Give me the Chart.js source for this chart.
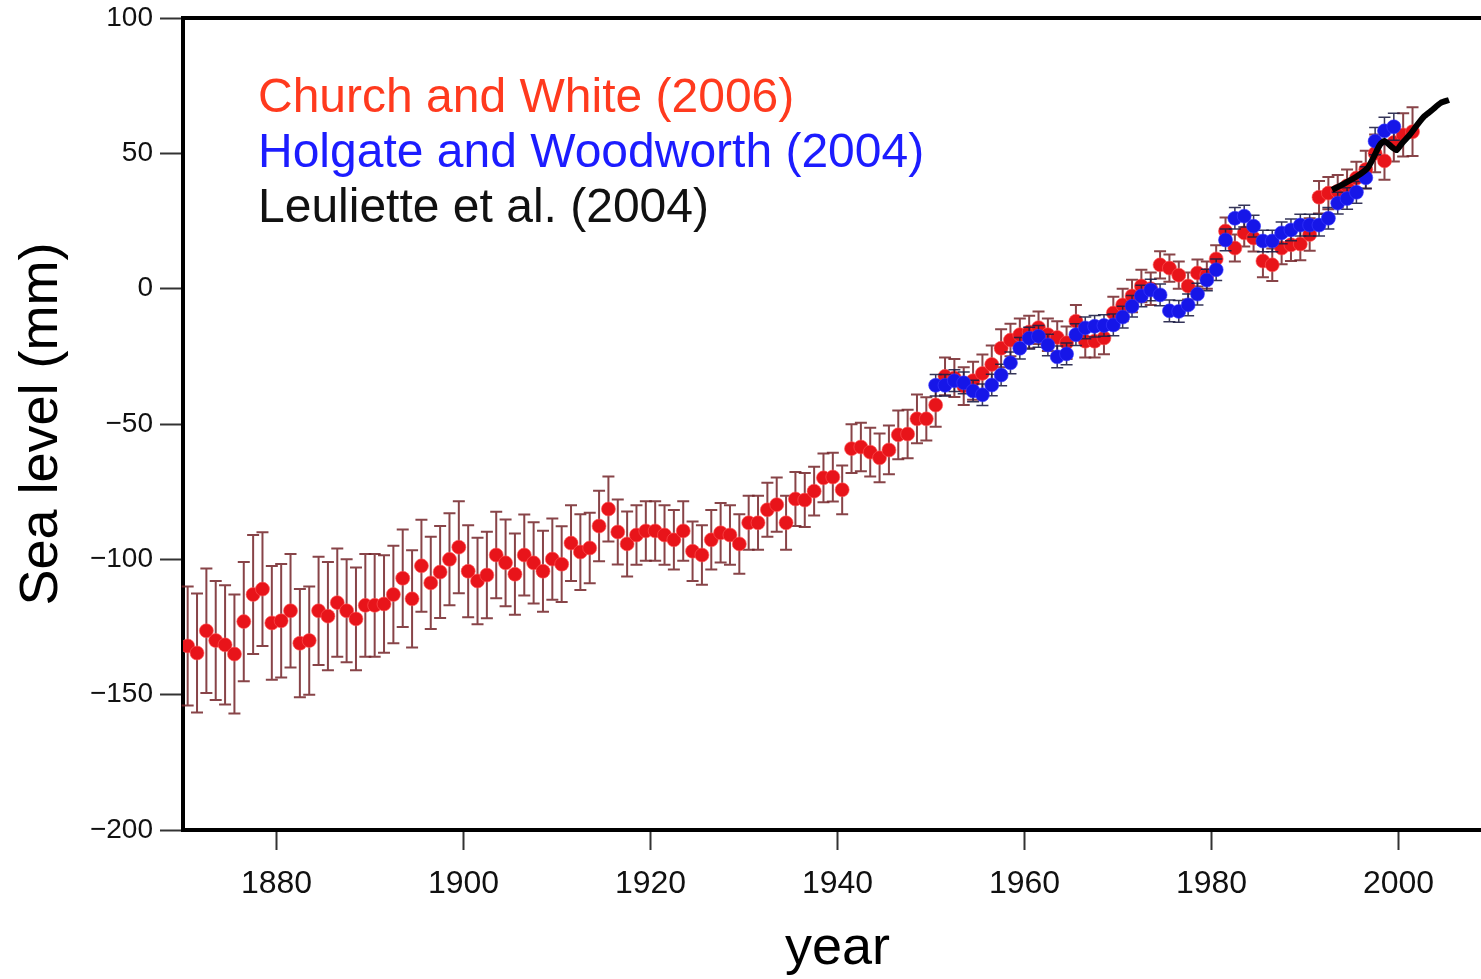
<!DOCTYPE html>
<html>
<head>
<meta charset="utf-8">
<title>Sea level</title>
<script src="https://cdn.jsdelivr.net/npm/chart.js@4.4.1/dist/chart.umd.min.js"></script>
<style>
  html, body { margin: 0; padding: 0; background: #fff; overflow: hidden; }
  #wrap { width: 1500px; height: 979px; }
</style>
</head>
<body>
<div id="wrap"><canvas id="seaChart"></canvas></div>
<script>
// Church and White (2006), annual values 1870..2001 (mm)
const churchStart = 1870;
const churchLevel = [
  -132, -134.6, -126.4, -130, -131.6, -135, -123, -113, -111, -123.5,
  -122.7, -119, -131, -130, -119, -121, -116, -119, -122, -117,
  -117, -116.5, -113, -107, -114.6, -102.4, -108.7, -104.7, -100, -95.5,
  -104.4, -108, -105.8, -98.4, -101.3, -105.5, -98.4, -101.3, -104.4, -99.9,
  -101.8, -94, -97.3, -95.8, -87.7, -81.4, -89.9, -94.3, -91, -89.5,
  -89.5, -91, -92.8, -89.5, -97, -98.4, -92.8, -90.2, -91, -94.3,
  -86.5, -86.5, -81.7, -79.8, -86.5, -77.7, -78.1, -74.8, -69.9, -69.6,
  -74.3, -59.1, -58.5, -60.4, -62.5, -59.6, -54, -53.7, -48.1, -48.1,
  -43, -32.4, -33, -36, -34, -31.3, -28, -22, -19, -17,
  -16, -14.4, -17, -18, -20, -12, -19.4, -19.4, -18.2, -9,
  -6, -2.7, 1, 0, 8.8, 7.6, 5, 1, 5.8, 5,
  11, 21.3, 15, 20.6, 18.7, 10.2, 8.8, 15, 16.2, 16.5,
  20, 33.8, 35.3, 36, 38, 40.9, 44, 50, 47.2, 54,
  56.8, 58
];
const churchErr = [
  22, 22, 23, 22, 22, 22, 22, 22, 21, 21,
  21, 21, 20, 20, 20, 20, 20, 19, 19, 19,
  19, 18, 18, 18, 18, 17, 17, 17, 17, 17,
  17, 16, 16, 16, 16, 15, 15, 15, 15, 15,
  14, 14, 14, 13, 13, 12, 12, 12, 11, 11,
  11, 11, 11, 11, 11, 11, 11, 11, 11, 11,
  10, 10, 10, 10, 10, 10, 10, 9, 9, 9,
  9, 9, 9, 9, 9, 9, 9, 9, 9, 8,
  8, 7, 7, 7, 7, 7, 7, 7, 6, 6,
  6, 6, 6, 6, 6, 6, 6, 6, 6, 6,
  6, 6, 6, 6, 5, 5, 5, 5, 5, 5,
  5, 5, 5, 5, 5, 6, 6, 6, 6, 6,
  6, 6, 6, 6, 6, 6, 7, 7, 7, 7,
  8, 9
];

// Holgate and Woodworth (2004), annual values 1950..1999 (mm)
const holgateStart = 1950;
const holgateLevel = [
  -35.7, -35.7, -34, -34.8, -37.8, -39.2, -35.6, -31.9, -27.4, -22,
  -18.3, -17.6, -20.8, -25.2, -24.1, -17, -14.5, -13.9, -13.6, -13.4,
  -10.5, -6.5, -2.7, -0.5, -2.3, -8.2, -8.4, -6, -2, 3.2,
  7, 18, 26, 26.8, 23.1, 17.6, 17.6, 20.6, 21.7, 23.5,
  23.5, 23.5, 26, 31.6, 33.3, 35.6, 41, 54.5, 58.3, 59.8
];
const holgateErr = [
  4, 4, 4, 4, 4, 4, 4, 4, 4, 4,
  4, 4, 4, 4, 4, 4, 4, 4, 4, 4,
  4, 4, 4, 4, 4, 4, 4, 4, 4, 4,
  4, 4, 4, 4, 4, 4, 4, 4, 4, 4,
  4, 4, 4, 4, 4, 4, 4, 5, 5, 5
];

// Leuliette et al. (2004), satellite altimetry trace
const leuliYears = [1992.9, 1994.3, 1995.6, 1996.7, 1997.4, 1998.0, 1998.5, 1999.3, 1999.8,
  2000.4, 2001.2, 2002.0, 2002.8, 2003.6, 2004.5, 2005.4];
const leuliLevel = [36.5, 39, 41.6, 44.6, 49, 53.1, 54.6, 52.3, 51.2,
  53.8, 56.8, 60.5, 63.8, 66, 68.6, 69.7];

const legendLines = [
  { text: "Church and White (2006)", color: "#ff3a1e" },
  { text: "Holgate and Woodworth (2004)", color: "#1c1cff" },
  { text: "Leuliette et al. (2004)", color: "#111111" }
];

const xTicks = [1880, 1900, 1920, 1940, 1960, 1980, 2000];

function toPoints(start, vals, errs) {
  return vals.map((v, i) => ({ x: start + i + 0.5, y: v, err: errs[i] }));
}

// error bars drawn right before each dataset's own points
const errorBars = {
  id: "errorBars",
  beforeDatasetDraw(chart, args) {
    const ds = chart.data.datasets[args.index];
    if (!ds.errColor) return;
    const { ctx, scales: { x, y } } = chart;
    ctx.save();
    ctx.strokeStyle = ds.errColor;
    ctx.lineWidth = ds.errWidth;
    ds.data.forEach(p => {
      const px = x.getPixelForValue(p.x);
      const top = y.getPixelForValue(p.y + p.err);
      const bot = y.getPixelForValue(p.y - p.err);
      ctx.beginPath();
      ctx.moveTo(px, top); ctx.lineTo(px, bot);
      ctx.moveTo(px - ds.capHalf, top); ctx.lineTo(px + ds.capHalf, top);
      ctx.moveTo(px - ds.capHalf, bot); ctx.lineTo(px + ds.capHalf, bot);
      ctx.stroke();
    });
    ctx.restore();
  }
};

const textLegend = {
  id: "textLegend",
  afterDraw(chart) {
    const { ctx, chartArea } = chart;
    ctx.save();
    ctx.font = "48px 'Liberation Sans', Arial, sans-serif";
    ctx.textBaseline = "middle";
    ctx.textAlign = "left";
    legendLines.forEach((l, i) => {
      ctx.fillStyle = l.color;
      ctx.fillText(l.text, chartArea.left + 75, chartArea.top + 81 + i * 55);
    });
    ctx.restore();
  }
};

Chart.defaults.font.family = "'Liberation Sans', Arial, sans-serif";
Chart.defaults.color = "#111";

new Chart(document.getElementById("seaChart"), {
  type: "scatter",
  data: {
    datasets: [
      {
        label: "Leuliette et al. (2004)",
        data: leuliYears.map((yr, i) => ({ x: yr, y: leuliLevel[i] })),
        showLine: true,
        borderColor: "#000",
        borderWidth: 6,
        pointRadius: 0,
        tension: 0.2
      },
      {
        label: "Holgate and Woodworth (2004)",
        data: toPoints(holgateStart, holgateLevel, holgateErr),
        backgroundColor: "#1616e8",
        borderColor: "rgba(60,60,255,0.6)",
        borderWidth: 1,
        pointRadius: 7,
        errColor: "rgba(30,30,70,0.9)",
        errWidth: 1.5,
        capHalf: 6
      },
      {
        label: "Church and White (2006)",
        data: toPoints(churchStart, churchLevel, churchErr),
        backgroundColor: "#e8141a",
        borderColor: "rgba(255,90,90,0.6)",
        borderWidth: 1,
        pointRadius: 7,
        errColor: "rgba(115,35,40,0.85)",
        errWidth: 2,
        capHalf: 6
      }
    ]
  },
  options: {
    responsive: true,
    maintainAspectRatio: false,
    animation: false,
    layout: { padding: 0 },
    plugins: { legend: { display: false }, tooltip: { enabled: false } },
    scales: {
      x: {
        type: "linear",
        position: "bottom",
        min: 1870,
        max: 2010,
        afterBuildTicks: s => { s.ticks = xTicks.map(v => ({ value: v })); },
        afterFit: s => { s.height = 149; s.paddingLeft = 0; s.paddingRight = 0; },
        ticks: {
          font: { size: 32 },
          color: "#111",
          padding: 15,
          maxRotation: 0,
          callback: v => String(v)
        },
        grid: { drawOnChartArea: false, tickLength: 20, tickColor: "#333", tickWidth: 2 },
        border: { color: "#000", width: 4 },
        title: { display: true, text: "year", font: { size: 54, lineHeight: 1.1 }, color: "#000", padding: 0 }
      },
      xTop: {
        type: "linear",
        position: "top",
        min: 1870,
        max: 2010,
        afterFit: s => { s.height = 18; },
        ticks: { display: false },
        grid: { display: false },
        border: { color: "#000", width: 4 }
      },
      y: {
        min: -200,
        max: 100,
        afterFit: s => { s.width = 183; s.paddingTop = 0; s.paddingBottom = 0; },
        ticks: {
          stepSize: 50,
          font: { size: 28 },
          color: "#111",
          padding: 7,
          callback: v => (v < 0 ? "\u2212" + Math.abs(v) : String(v))
        },
        grid: { drawOnChartArea: false, tickLength: 23, tickColor: "#333", tickWidth: 2 },
        border: { color: "#000", width: 4 },
        title: { display: true, text: "Sea level (mm)", font: { size: 54, lineHeight: 1.2 }, color: "#000", padding: { top: 10, bottom: 0 } }
      }
    }
  },
  plugins: [errorBars, textLegend]
});
</script>
</body>
</html>
